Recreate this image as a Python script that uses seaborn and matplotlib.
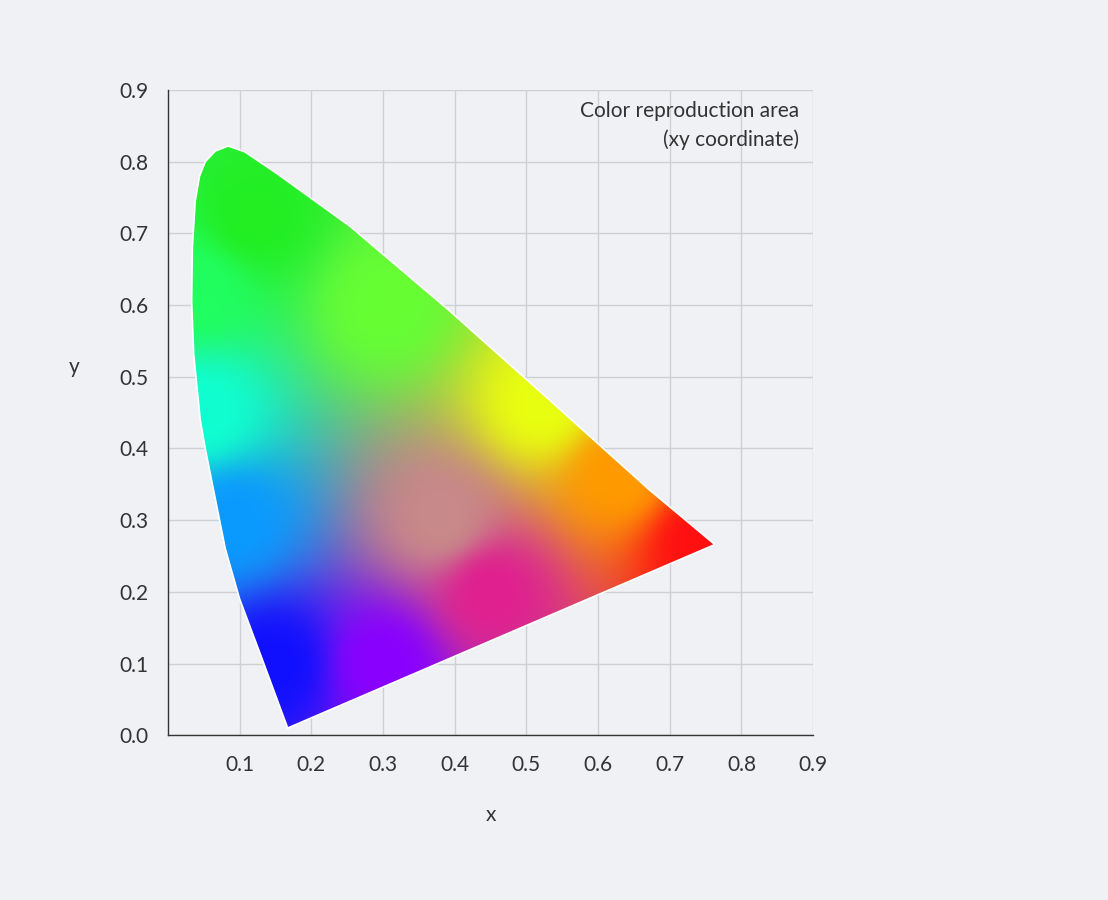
import numpy as np
import matplotlib
matplotlib.use("Agg")
import matplotlib.pyplot as plt
from matplotlib.patches import Polygon
from matplotlib.colors import to_rgb
import seaborn as sns

# boundary of the colour area (x, y chromaticity)
locus_x = [0.167, 0.130, 0.100, 0.080, 0.066, 0.052, 0.045, 0.036, 0.033, 0.034,
           0.038, 0.044, 0.052, 0.066, 0.084, 0.107, 0.150, 0.254, 0.393, 0.533, 0.672, 0.763]
locus_y = [0.010, 0.110, 0.190, 0.260, 0.330, 0.400, 0.440, 0.530, 0.605, 0.680,
           0.745, 0.780, 0.800, 0.815, 0.822, 0.814, 0.785, 0.710, 0.592, 0.467, 0.342, 0.266]
# colour anchors
anchor_x = [0.12, 0.30, 0.52, 0.63, 0.74, 0.45, 0.30, 0.15, 0.09, 0.05, 0.04, 0.38]
anchor_y = [0.72, 0.60, 0.46, 0.36, 0.27, 0.20, 0.10, 0.10, 0.30, 0.45, 0.62, 0.30]
anchor_c = ["#22ee22", "#66ff33", "#e8ff10", "#ff9a00", "#ff1010", "#e0208f",
            "#8a00ff", "#1010ff", "#0a9aff", "#10ffd0", "#20ff60", "#c88a8a"]
x_ticks = [0.1, 0.2, 0.3, 0.4, 0.5, 0.6, 0.7, 0.8, 0.9]
y_ticks = [0.0, 0.1, 0.2, 0.3, 0.4, 0.5, 0.6, 0.7, 0.8, 0.9]
title_text = "Color reproduction area\n(xy coordinate)"

BG = "#f0f1f4"
sns.set_style("white")
plt.rcParams["font.family"] = ["Lato", "DejaVu Sans"]

fig = plt.figure(figsize=(11.08, 9.0), dpi=100, facecolor=BG)
ax = fig.add_axes([0.1516, 0.181, 0.5822, 0.721])
ax.set_facecolor(BG)
ax.set_xlim(0, 0.9)
ax.set_ylim(0, 0.9)

# smooth colour field: inverse-distance blend of the anchors
n = 450
gx, gy = np.meshgrid(np.linspace(0, 0.9, n), np.linspace(0, 0.9, n))
ax_arr = np.array(anchor_x)[:, None, None]
ay_arr = np.array(anchor_y)[:, None, None]
d2 = (gx - ax_arr) ** 2 + (gy - ay_arr) ** 2 + 1e-5
w = 1.0 / d2 ** 1.5
w = w / w.sum(axis=0)
cols = np.array([to_rgb(c) for c in anchor_c])
rgb = np.einsum("kij,kc->ijc", w, cols)
rgb = np.clip(rgb, 0, 1)

ax.grid(True, color="#cfd0d3", linewidth=1)
ax.set_axisbelow(True)
im = ax.imshow(rgb, origin="lower", extent=[0, 0.9, 0, 0.9], interpolation="bilinear", zorder=2)
poly = Polygon(np.column_stack([locus_x, locus_y]), closed=True, transform=ax.transData)
im.set_clip_path(poly)
ax.plot(locus_x + [locus_x[0]], locus_y + [locus_y[0]], color="white", linewidth=1.2, zorder=3)

ax.set_xticks(x_ticks)
ax.set_yticks(y_ticks)
ax.set_xticklabels([f"{v:.1f}" for v in x_ticks])
ax.set_yticklabels([f"{v:.1f}" for v in y_ticks])
ax.tick_params(labelsize=15, colors="#333333", length=0, pad=14)
for s in ["top", "right"]:
    ax.spines[s].set_visible(False)
for s in ["left", "bottom"]:
    ax.spines[s].set_color("#333333")
    ax.spines[s].set_linewidth(1)
ax.set_xlabel("x", fontsize=15, color="#333333", labelpad=22)
ax.set_ylabel("y", fontsize=15, color="#333333", rotation=0, labelpad=30)
ax.yaxis.set_label_coords(-0.145, 0.555)
ax.text(0.88, 0.885, title_text, ha="right", va="top", fontsize=15,
        color="#333333", linespacing=1.5, zorder=4)

fig.savefig("out.png", dpi=100, facecolor=BG)
